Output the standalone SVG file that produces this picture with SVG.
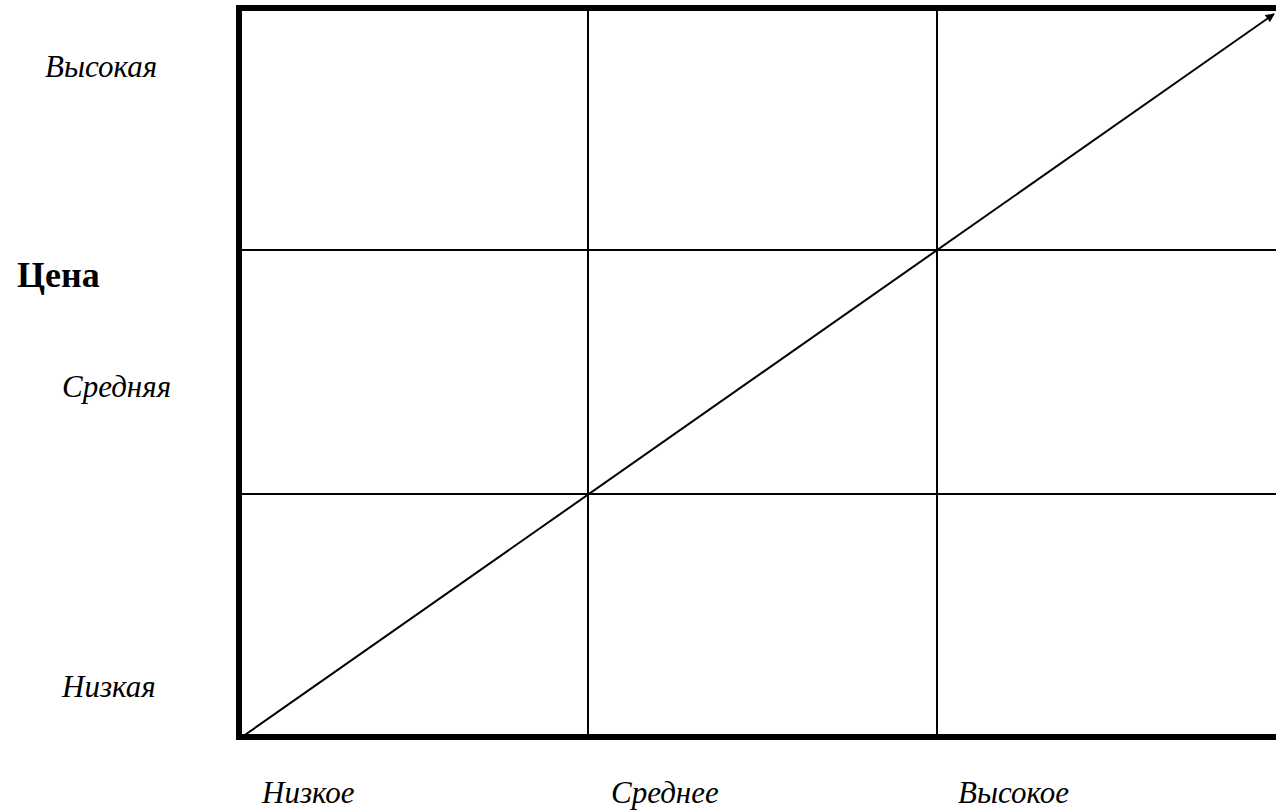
<svg xmlns="http://www.w3.org/2000/svg" width="1276" height="811" viewBox="0 0 1276 811">
<style>
.lbl{font-family:"Liberation Serif",serif;font-style:italic;font-size:31px;fill:#000}
.ttl{font-family:"Liberation Serif",serif;font-weight:bold;font-size:36px;fill:#000}
.thick{stroke:#000;stroke-width:6;fill:none}
.thin{stroke:#000;stroke-width:2;fill:none}
</style>
<defs>
<marker id="arr" viewBox="0 0 10 10" refX="9" refY="5" markerWidth="10" markerHeight="9" markerUnits="userSpaceOnUse" orient="auto">
<path d="M0,0 L10,5 L0,10 z" fill="#000"/>
</marker>
</defs>
<rect width="1276" height="811" fill="#fff"/>
<g id="grid">
<line class="thin" x1="242" y1="250" x2="1276" y2="250"/>
<line class="thin" x1="242" y1="494" x2="1276" y2="494"/>
<line class="thin" x1="588" y1="8" x2="588" y2="737"/>
<line class="thin" x1="937" y1="8" x2="937" y2="737"/>
<line class="thick" x1="239" y1="5" x2="239" y2="740"/>
<line class="thick" x1="236" y1="8" x2="1276" y2="8"/>
<line class="thick" x1="236" y1="737" x2="1276" y2="737"/>
</g>
<g id="connectors">
<line x1="242" y1="737" x2="1274" y2="14" stroke="#000" stroke-width="2" marker-end="url(#arr)"/>
</g>
<g id="labels">
<text class="lbl" x="45" y="77">Высокая</text>
<text class="ttl" x="17" y="287">Цена</text>
<text class="lbl" x="62" y="397">Средняя</text>
<text class="lbl" x="62" y="697">Низкая</text>
<text class="lbl" x="262" y="803">Низкое</text>
<text class="lbl" x="611" y="803">Среднее</text>
<text class="lbl" x="958" y="803">Высокое</text>
</g>
</svg>
